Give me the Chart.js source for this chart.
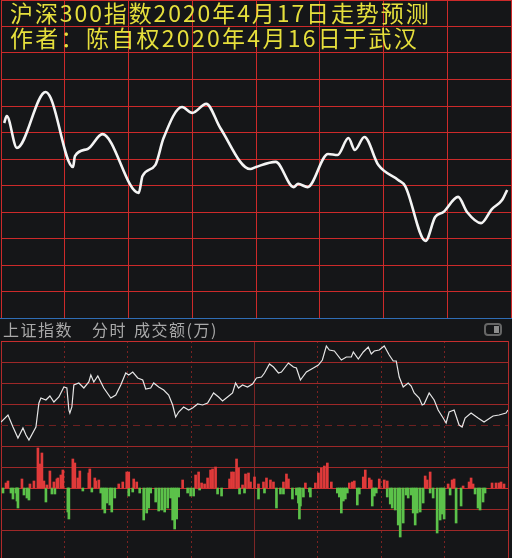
<!DOCTYPE html>
<html>
<head>
<meta charset="utf-8">
<script src="https://cdn.jsdelivr.net/npm/chart.js@4.4.0/dist/chart.umd.min.js"></script>
<style>
body{margin:0;background:#151618;width:512px;height:558px;overflow:hidden;position:relative;}
canvas{position:absolute;left:0;}
#chartTop{top:0;}
#chartBottom{top:336px;}
.title{position:absolute;left:10px;color:#e6df3c;font-family:"Noto Sans CJK SC";font-size:23px;letter-spacing:1.9px;line-height:24px;white-space:nowrap;z-index:2;}
#sep{position:absolute;left:0;top:318px;width:512px;height:1px;background:#2f6db5;}
.head{position:absolute;top:319px;color:#a9a9a9;font-family:"Noto Sans CJK SC";font-size:16px;letter-spacing:1.5px;line-height:21px;white-space:nowrap;}
#toggle{position:absolute;left:484px;top:323px;width:14px;height:9px;border:2px solid #666;border-radius:4px;}
#toggle div{position:absolute;right:1px;top:1px;width:5px;height:7px;background:#8c8c8c;}
</style>
</head>
<body>
<canvas id="chartTop" width="512" height="318"></canvas>
<div class="title" style="top:0px;">沪深300指数2020年4月17日走势预测</div>
<div class="title" style="top:25px;letter-spacing:2.3px;">作者：陈自权2020年4月16日于武汉</div>
<div id="sep"></div>
<div class="head" style="left:3px;">上证指数</div>
<div class="head" style="left:92px;">分时</div>
<div class="head" style="left:134px;">成交额(万)</div>
<div id="toggle"><div></div></div>
<canvas id="chartBottom" width="512" height="222"></canvas>
<script>
'use strict';

// forecast curve (hours from open / grid units)
var forecastX = [0.05, 0.09, 0.25, 0.70, 0.78, 1.13, 1.16, 1.36, 1.59, 2.16, 2.22, 2.42, 2.55, 2.84, 3.00, 3.22, 3.44, 3.91,
    4.00, 4.31, 4.59, 4.66, 4.81, 5.13, 5.28, 5.45, 5.55, 5.70, 5.92, 6.23, 6.34, 6.66, 6.81, 6.94, 7.17, 7.31, 7.53, 7.70, 7.86, 7.94];
var forecastY = [7.36, 7.62, 6.42, 8.53, 8.30, 5.70, 6.11, 6.38, 6.94, 4.72, 5.36, 5.77, 6.79, 7.96, 7.74, 8.08, 7.17, 5.62,
    5.70, 5.89, 4.94, 5.06, 4.94, 6.19, 6.15, 6.79, 6.34, 6.83, 5.77, 5.21, 4.98, 2.91, 3.81, 4.00, 4.57, 4.00, 3.58, 4.11, 4.45, 4.83];

// intraday index line
var indexX = [0, 7, 12, 17, 22, 25, 28, 35, 38, 40, 45, 49, 53, 58, 63, 66, 68, 69, 71, 73, 78, 83, 88, 90, 93, 97, 99, 103,
    110, 115, 120, 125, 128, 132, 137, 142, 145, 150, 153, 158, 163, 168, 172, 175, 178, 183, 188, 192, 197, 202, 207, 213,
    218, 222, 227, 232, 235, 238, 242, 247, 252, 256, 261, 264, 269, 273, 278, 281, 288, 293, 296, 300, 306, 313, 318, 322,
    326, 329, 334, 341, 346, 351, 353, 358, 363, 368, 371, 374, 379, 384, 389, 393, 396, 399, 403, 408, 411, 414, 419, 422,
    424, 429, 434, 438, 443, 446, 449, 454, 459, 462, 465, 471, 478, 484, 493, 499, 506, 508];
var indexY = [24, 31, 19, 8, 18, 11, 6, 19, 43, 48, 46, 50, 44, 49, 59, 58, 36, 33, 39, 61, 63, 58, 64, 71, 64, 70, 66, 58,
    48, 51, 61, 73, 71, 74, 68, 66, 57, 58, 63, 59, 56, 51, 41, 29, 34, 39, 36, 38, 42, 41, 43, 53,
    49, 45, 49, 53, 63, 58, 61, 59, 62, 68, 69, 73, 82, 79, 73, 74, 83, 79, 78, 66, 74, 78, 81, 86,
    100, 96, 95, 86, 89, 89, 94, 87, 94, 99, 92, 95, 96, 100, 91, 85, 85, 69, 59, 63, 60, 53, 48, 41,
    42, 53, 46, 36, 28, 23, 34, 36, 21, 19, 28, 33, 28, 24, 30, 31, 33, 36];

// turnover bars above / below the zero line
var upX = [5, 7, 21, 29, 33, 37, 39, 41, 43, 46, 49, 53, 56, 57, 60, 62, 72, 74, 77, 79, 88, 89, 94, 95, 98, 118, 122, 126,
    128, 133, 136, 182, 195, 198, 201, 204, 207, 210, 212, 215, 229, 231, 233, 236, 238, 242, 245, 248, 250, 254, 258, 263,
    266, 270, 273, 283, 286, 288, 305, 315, 318, 321, 324, 327, 331, 349, 352, 354, 363, 365, 369, 371, 379, 384, 387, 425,
    427, 430, 448, 452, 454, 463, 469, 471, 473, 492, 496, 499, 501, 504];
var upH = [5, 7, 9, 4, 7, 40, 24, 35, 7, 3, 17, 6, 9, 10, 13, 18, 29, 25, 10, 17, 15, 19, 10, 7, 8, 4, 6, 16,
    16, 9, 6, 8, 13, 16, 5, 4, 10, 18, 19, 21, 9, 16, 16, 29, 20, 3, 14, 15, 6, 11, 4, 6,
    10, 8, 6, 6, 14, 9, 5, 5, 15, 20, 22, 25, 6, 5, 6, 7, 11, 18, 10, 8, 9, 8, 7, 12,
    8, 16, 4, 8, 9, 2, 6, 10, 4, 5, 5, 5, 6, 4];
var downX = [2, 10, 12, 15, 16, 17, 23, 26, 28, 45, 51, 54, 67, 68, 82, 91, 100, 102, 104, 106, 109, 111, 114, 128, 132, 139,
    143, 146, 148, 150, 155, 158, 161, 164, 167, 170, 172, 174, 176, 178, 187, 190, 193, 199, 217, 221, 239, 244, 258, 264,
    276, 280, 283, 292, 296, 298, 299, 300, 303, 309, 310, 337, 339, 341, 343, 345, 347, 357, 359, 372, 374, 376, 387, 390,
    392, 395, 398, 400, 403, 406, 408, 411, 413, 415, 417, 420, 423, 430, 433, 437, 440, 442, 444, 450, 456, 461, 475, 478,
    480, 483, 485];
var downH = [-5, -5, -11, -5, -13, -20, -7, -10, -12, -14, -6, -6, -24, -31, -3, -4, -5, -21, -25, -15, -17, -24, -10, -8, -4, -5,
    -32, -25, -20, -5, -14, -23, -22, -24, -20, -10, -32, -41, -31, -9, -5, -8, -8, -2, -6, -8, -6, -5, -11, -5,
    -20, -6, -6, -11, -7, -15, -31, -18, -9, -4, -9, -5, -9, -25, -13, -11, -5, -17, -6, -18, -8, -5, -9, -16,
    -20, -22, -37, -49, -35, -7, -10, -7, -25, -37, -25, -24, -15, -5, -10, -45, -32, -26, -31, -7, -35, -18, -6, -20,
    -22, -14, -5];

function pairs(xs, ys){
    return xs.map(function(x, i){ return {x: x, y: ys[i]}; });
}

function tickValue(ctx){
    return (ctx && ctx.tick) ? ctx.tick.value : null;
}

// ------------------------------------------------------- //
// forecast chart
// ------------------------------------------------------ //
var ChartTop = new Chart(document.getElementById('chartTop').getContext('2d'), {
    type: 'line',
    data: {
        datasets: [{
            data: pairs(forecastX, forecastY),
            borderColor: '#f4f4f4',
            borderWidth: 2.6,
            pointRadius: 0,
            cubicInterpolationMode: 'monotone',
            fill: false
        }]
    },
    options: {
        responsive: false,
        animation: false,
        layout: {padding: {left: 1, right: 1, top: 0, bottom: 0}},
        plugins: {legend: {display: false}, tooltip: {enabled: false}},
        scales: {
            x: {type: 'linear', min: 0, max: 8, ticks: {display: false, stepSize: 1},
                grid: {color: '#cc2a2a', drawTicks: false}, border: {display: false}},
            y: {min: 0, max: 12, ticks: {display: false, stepSize: 1},
                grid: {color: '#cc2a2a', drawTicks: false}, border: {display: false}}
        }
    }
});

// ------------------------------------------------------- //
// intraday chart with turnover
// ------------------------------------------------------ //
var ChartBottom = new Chart(document.getElementById('chartBottom').getContext('2d'), {
    type: 'bar',
    data: {
        datasets: [
            {
                type: 'line',
                data: pairs(indexX, indexY),
                yAxisID: 'y',
                borderColor: '#e6e6e6',
                borderWidth: 1.2,
                pointRadius: 0,
                tension: 0,
                order: 0
            },
            {
                data: pairs(upX, upH),
                yAxisID: 'y2',
                backgroundColor: '#e03a3a',
                barThickness: 2,
                grouped: false,
                order: 1
            },
            {
                data: pairs(downX, downH),
                yAxisID: 'y2',
                backgroundColor: '#5cc24a',
                barThickness: 2,
                grouped: false,
                order: 1
            }
        ]
    },
    options: {
        responsive: false,
        animation: false,
        layout: {padding: {left: 1, right: 4, top: 5, bottom: 0}},
        plugins: {legend: {display: false}, tooltip: {enabled: false}},
        scales: {
            x: {
                type: 'linear', min: 0, max: 508, offset: false,
                ticks: {display: false, stepSize: 63.5},
                grid: {
                    offset: false,
                    drawTicks: false,
                    color: function(ctx){
                        var v = tickValue(ctx);
                        if (v === 0 || v === 508) return '#b02a2a';
                        if (v === 254) return '#7e2626';
                        return '#7a2222';
                    }
                },
                border: {
                    display: false,
                    dash: function(ctx){
                        var v = tickValue(ctx);
                        if (v === null) return [];
                        return (v === 0 || v === 254 || v === 508) ? [] : [2, 3];
                    }
                }
            },
            y: {
                min: -112, max: 105,
                ticks: {display: false, stepSize: 21},
                grid: {
                    drawTicks: false,
                    color: function(ctx){
                        var v = tickValue(ctx);
                        if (v === null || v % 21 !== 0) return 'rgba(0,0,0,0)';
                        if (v === 105 || v === -42) return '#c62e2e';
                        if (v === 21) return '#6e2020';
                        return '#9e2828';
                    }
                },
                border: {
                    display: false,
                    dash: function(ctx){
                        return tickValue(ctx) === 21 ? [7, 5] : [];
                    }
                }
            },
            y2: {display: false, min: -70, max: 147}
        }
    }
});
</script>
</body>
</html>
